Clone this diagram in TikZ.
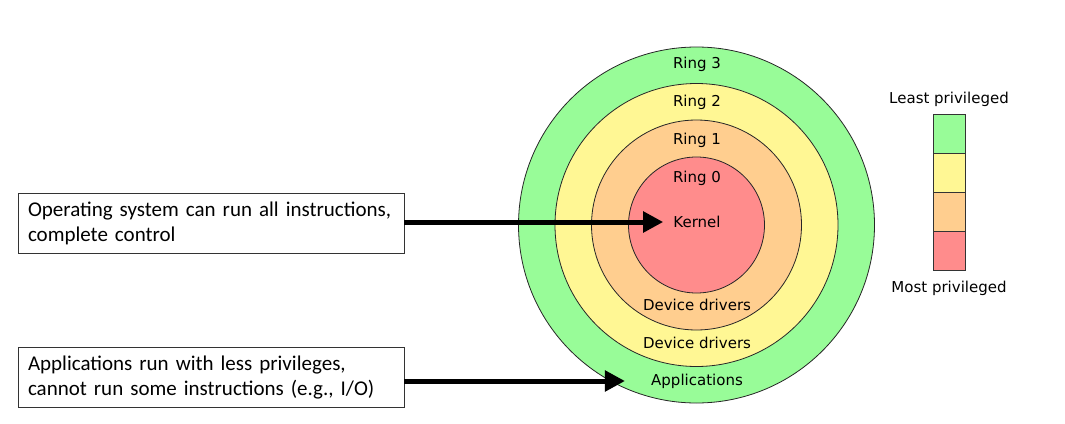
\documentclass[tikz,border=0pt]{standalone}
\usepackage{fontspec}
\setmainfont{DejaVu Sans}
\newfontfamily\boxfont{Carlito}
\usetikzlibrary{positioning,arrows.meta}

\definecolor{ringgreen}{RGB}{152,252,152}
\definecolor{ringyellow}{RGB}{255,247,148}
\definecolor{ringorange}{RGB}{255,206,143}
\definecolor{ringred}{RGB}{255,140,140}

\tikzset{
  ring/.style={circle, draw=black!85, line width=0.8pt, inner sep=0pt},
  lbl/.style={font=\fontsize{15}{17}\selectfont, inner sep=2pt},
  infobox/.style={draw=black!80, line width=0.8pt, text width=366pt, inner xsep=10pt,
    minimum height=60pt, align=left, font=\boxfont\fontsize{21}{25}\selectfont},
  legbox/.style={rectangle, draw=black!80, line width=0.8pt, minimum width=32pt,
    minimum height=39pt, inner sep=0pt, outer sep=0pt},
  bigarrow/.style={line width=5pt, -{Triangle[length=20pt,width=20pt]}}
}

\begin{document}
\begin{tikzpicture}[x=1pt, y=-1pt]
        \useasboundingbox (0,0) rectangle (1065,423);

        % rings
        \node (r3) [ring, fill=ringgreen, minimum size=356pt] at (696.5,225) {};
        \node (r2) [ring, fill=ringyellow, minimum size=283pt] at (696.5,225) {};
        \node (r1) [ring, fill=ringorange, minimum size=210pt] at (696.5,225) {};
        \node (r0) [ring, fill=ringred, minimum size=136pt] at (696.5,225) {};

        \node (ring3) [lbl] at (697,64) {Ring 3};
        \node (ring2) [lbl] at (697,102) {Ring 2};
        \node (ring1) [lbl] at (697,140) {Ring 1};
        \node (ring0) [lbl] at (697,178) {Ring 0};
        \node (kernel) [lbl] at (697,222) {Kernel};
        \node (drv1) [lbl] at (697,305) {Device drivers};
        \node (drv2) [lbl] at (697,343) {Device drivers};
        \node (apps) [lbl] at (697,381) {Applications};

        % legend
        \node (leg3) [legbox, fill=ringgreen, anchor=north] at (949,114) {};
        \node (leg2) [legbox, fill=ringyellow, below=0pt of leg3] {};
        \node (leg1) [legbox, fill=ringorange, below=0pt of leg2] {};
        \node (leg0) [legbox, fill=ringred, below=0pt of leg1] {};
        \node (least) [lbl, above=5pt of leg3] {Least privileged};
        \node (most) [lbl, below=9pt of leg0] {Most privileged};

        % explanations
        \node (os) [infobox] at (211,223) {Operating system can run all instructions,\\complete control};
        \node (app) [infobox] at (211,377.5) {Applications run with less privileges,\\cannot run some instructions (e.g., I/O)};

        \draw [bigarrow, shorten >=8pt] (os.east |- kernel) -- (kernel.west);
        \draw [bigarrow, shorten >=24pt] (app.east |- apps) -- (apps.west);
    \end{tikzpicture}
\end{document}
